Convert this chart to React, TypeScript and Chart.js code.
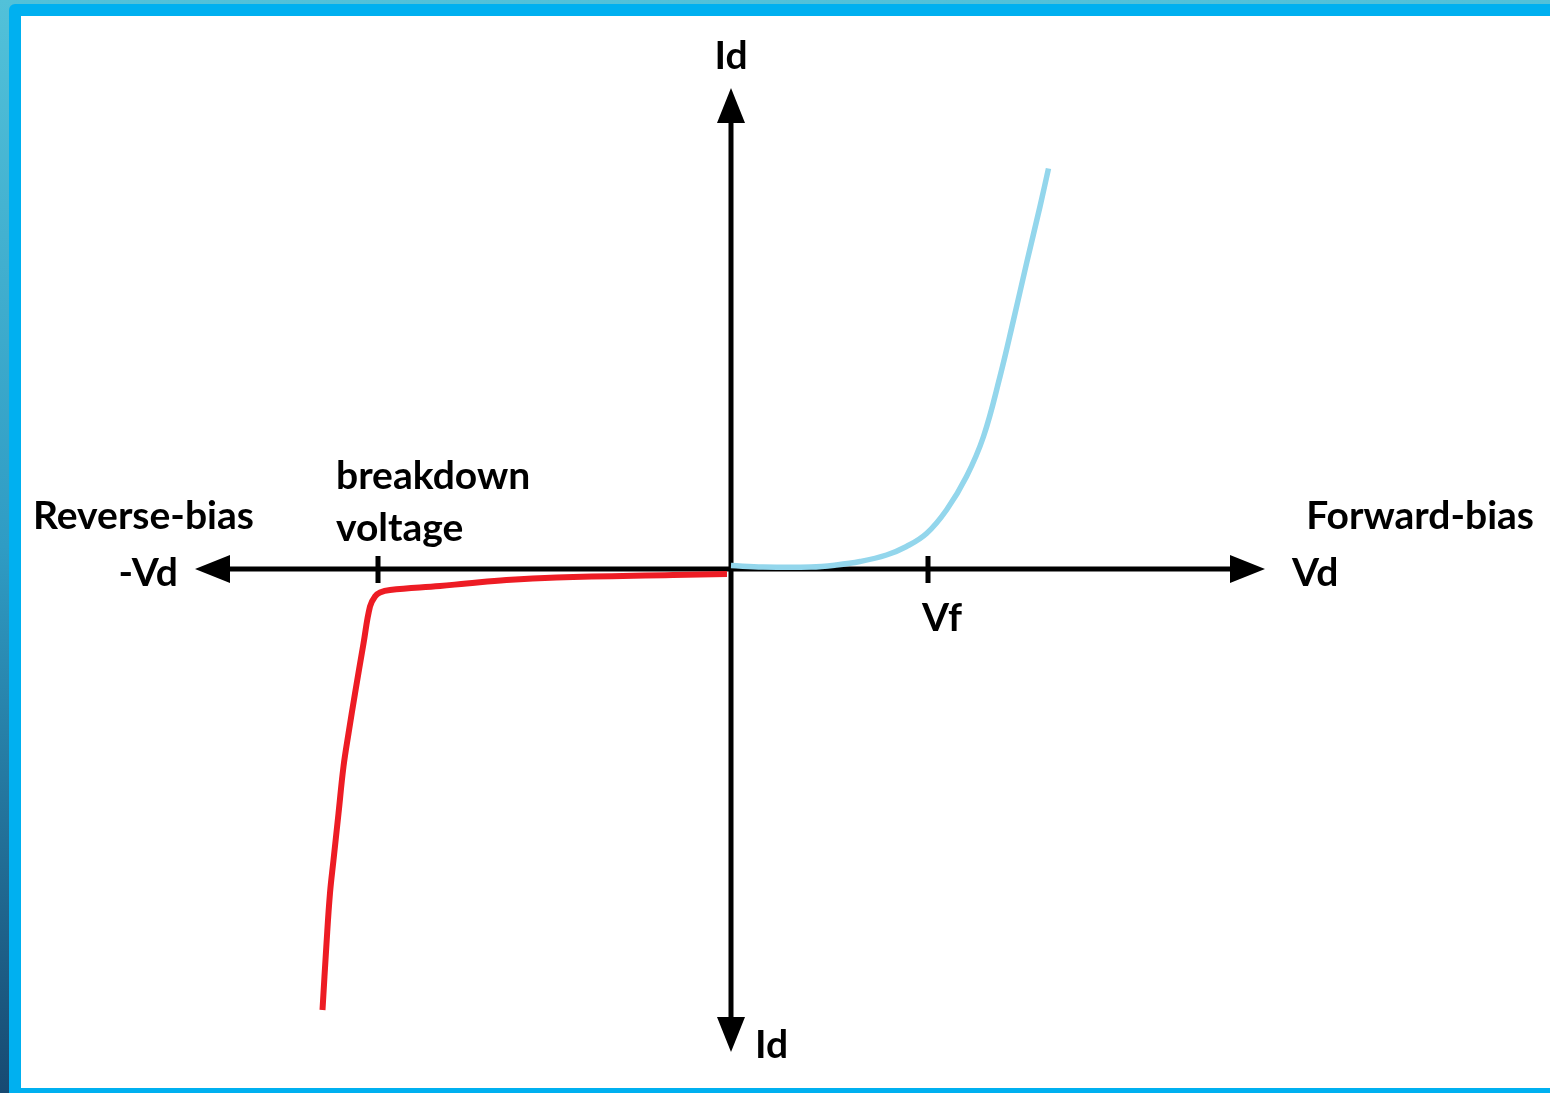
import React, { useEffect, useRef } from "react";
import { Chart, registerables } from "chart.js";

Chart.register(...registerables);

// Forward-bias branch (Vd, Id) in arbitrary units
const forwardV = [0, 0.64, 1.6, 2.1, 2.58, 3.11, 3.51, 3.91, 4.31, 4.71, 5.05, 5.38, 5.65, 5.91, 6.18, 6.35];
const forwardI = [0.07, 0.04, 0.04, 0.08, 0.15, 0.28, 0.45, 0.71, 1.18, 1.85, 2.65, 3.85, 4.98, 6.11, 7.25, 8.01];

// Reverse-bias branch (Vd, Id)
const reverseV = [-8.17, -8.09, -8.02, -7.95, -7.85, -7.75, -7.65, -7.52, -7.35, -7.22, -7.12, -7.02, -6.82, -5.82, -5.29, -4.49, -3.49, -1.16, -0.08];
const reverseI = [-8.82, -7.49, -6.48, -5.82, -4.89, -3.95, -3.29, -2.49, -1.49, -0.75, -0.55, -0.47, -0.42, -0.34, -0.29, -0.22, -0.17, -0.12, -0.1];

// Axis extents and marked voltages
const axisX = [-10.72, 10.68];
const axisY = [-9.66, 9.62];
const VF = 3.94;
const VBR = -7.06;

const tickLabels = ["Vf", "breakdown", "voltage"];
const axisLabels = ["Id", "Id", "-Vd", "Vd", "Reverse-bias", "Forward-bias"];

const FONT = "bold 39px Lato";

const axesPlugin = {
  id: "diodeAxes",
  beforeDatasetsDraw(chart: any) {
    const { ctx, scales } = chart;
    const xs = scales.x;
    const ys = scales.y;
    const x0 = xs.getPixelForValue(0);
    const y0 = ys.getPixelForValue(0);
    const xl = xs.getPixelForValue(axisX[0]);
    const xr = xs.getPixelForValue(axisX[1]);
    const yb = ys.getPixelForValue(axisY[0]);
    const yt = ys.getPixelForValue(axisY[1]);
    const L = 35;
    const W = 14;
    ctx.save();
    ctx.strokeStyle = "#000";
    ctx.fillStyle = "#000";
    ctx.lineWidth = 5;
    ctx.beginPath();
    ctx.moveTo(xl + L - 2, y0);
    ctx.lineTo(xr - L + 2, y0);
    ctx.moveTo(x0, yt + L - 2);
    ctx.lineTo(x0, yb - L + 2);
    ctx.stroke();
    // ticks
    ctx.lineWidth = 5;
    ctx.beginPath();
    [VF, VBR].forEach((v) => {
      const px = xs.getPixelForValue(v);
      ctx.moveTo(px, y0 - 13);
      ctx.lineTo(px, y0 + 14);
    });
    ctx.stroke();
    // arrow heads
    const tri = (a: number[], b: number[], c: number[]) => {
      ctx.beginPath();
      ctx.moveTo(a[0], a[1]);
      ctx.lineTo(b[0], b[1]);
      ctx.lineTo(c[0], c[1]);
      ctx.closePath();
      ctx.fill();
    };
    tri([xl, y0], [xl + L, y0 - W], [xl + L, y0 + W]);
    tri([xr, y0], [xr - L, y0 - W], [xr - L, y0 + W]);
    tri([x0, yt], [x0 - W, yt + L], [x0 + W, yt + L]);
    tri([x0, yb], [x0 - W, yb - L], [x0 + W, yb - L]);

    // labels
    ctx.font = FONT;
    ctx.textBaseline = "alphabetic";
    ctx.textAlign = "center";
    ctx.fillText(axisLabels[0], x0, yt - 19);
    ctx.textAlign = "left";
    ctx.fillText(axisLabels[1], x0 + 24, yb + 6);
    ctx.textAlign = "right";
    ctx.fillText(axisLabels[2], xl - 17, y0 + 17);
    ctx.textAlign = "left";
    ctx.fillText(axisLabels[3], xr + 27, y0 + 17);
    ctx.fillText(axisLabels[4], xl - 162, y0 - 40);
    ctx.textAlign = "right";
    ctx.fillText(axisLabels[5], xr + 269, y0 - 40);
    ctx.textAlign = "left";
    const pf = xs.getPixelForValue(VF);
    const pb = xs.getPixelForValue(VBR);
    ctx.fillText(tickLabels[0], pf - 6, y0 + 62);
    ctx.fillText(tickLabels[1], pb - 42, y0 - 80);
    ctx.fillText(tickLabels[2], pb - 42, y0 - 28);
    ctx.restore();
  },
};

export default function App() {
  const ref = useRef<HTMLCanvasElement | null>(null);
  useEffect(() => {
    if (!ref.current) return;
    const chart = new Chart(ref.current, {
      type: "line",
      data: {
        datasets: [
          {
            label: "Reverse",
            data: reverseV.map((v, i) => ({ x: v, y: reverseI[i] })),
            borderColor: "#ed1c24",
            borderWidth: 6,
            pointRadius: 0,
            tension: 0.4,
            fill: false,
          },
          {
            label: "Forward",
            data: forwardV.map((v, i) => ({ x: v, y: forwardI[i] })),
            borderColor: "#93d6ec",
            borderWidth: 5.5,
            pointRadius: 0,
            tension: 0.4,
            fill: false,
          },
        ],
      },
      options: {
        animation: false,
        responsive: false,
        devicePixelRatio: 1,
        layout: { padding: 0 },
        plugins: { legend: { display: false }, tooltip: { enabled: false } },
        scales: {
          x: { type: "linear", display: false, min: -14.62, max: 16.38 },
          y: { type: "linear", display: false, min: -10.48, max: 11.38 },
        },
      },
      plugins: [axesPlugin],
    });
    return () => chart.destroy();
  }, []);

  return (
    <div
      style={{
        position: "absolute",
        left: 0,
        top: 0,
        width: 1550,
        height: 1093,
        overflow: "hidden",
        background: "linear-gradient(to bottom, #52c1d9 0%, #2f9cc4 50%, #174a72 100%)",
      }}
    >
      <div
        style={{
          position: "absolute",
          left: 9,
          top: 4,
          right: 0,
          bottom: 0,
          background: "#00b0f0",
          borderTopLeftRadius: 6,
        }}
      />
      <div
        style={{
          position: "absolute",
          left: 21,
          top: 16,
          right: 0,
          bottom: 5,
          background: "#ffffff",
        }}
      />
      <canvas
        ref={ref}
        width={1550}
        height={1093}
        style={{ position: "absolute", left: 0, top: 0, width: 1550, height: 1093 }}
      />
    </div>
  );
}
